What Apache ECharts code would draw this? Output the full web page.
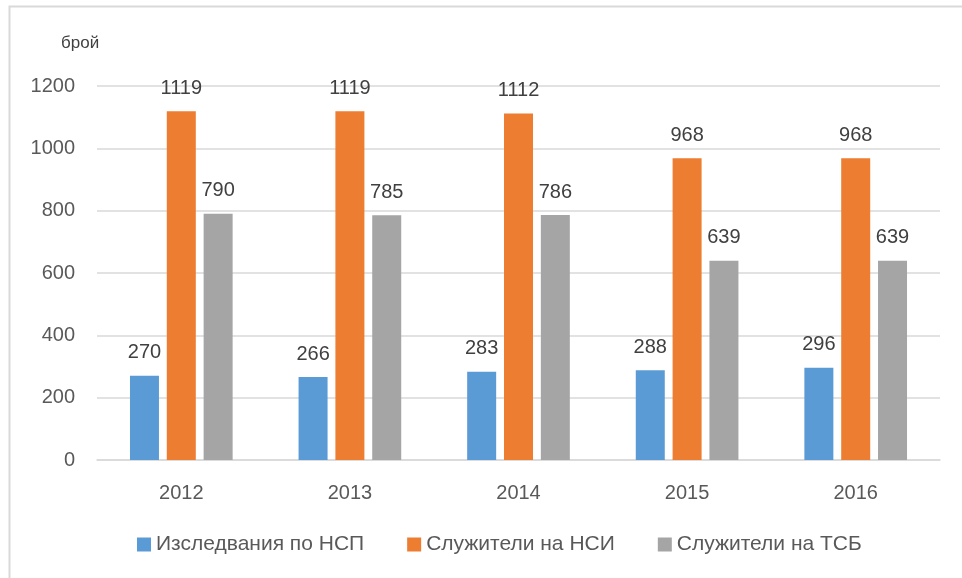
<!DOCTYPE html>
<html>
<head>
<meta charset="utf-8">
<script src="https://cdn.jsdelivr.net/npm/echarts@6/dist/echarts.min.js"></script>
<style>
  * { margin: 0; padding: 0; }
  body { background: #fff; }
  #container { width: 962px; height: 578px; }
</style>
</head>
<body>
<div id="container"></div>
<script>
var years = ['2012', '2013', '2014', '2015', '2016'];
var seriesNames = ['Изследвания по НСП', 'Служители на НСИ', 'Служители на ТСБ'];
var nsp = [270, 266, 283, 288, 296];
var nsi = [1119, 1119, 1112, 968, 968];
var tsb = [790, 785, 786, 639, 639];
var colors = ['#5b9bd5', '#ed7d31', '#a5a5a5'];

var font = 'Liberation Sans, Arial, sans-serif';
var chart = echarts.init(document.getElementById('container'));

function makeBar(name, data, color) {
    return {
        name: name,
        type: 'bar',
        data: data,
        barWidth: 29,
        barGap: '27%',
        itemStyle: { color: color },
        label: {
            show: true,
            position: 'top',
            distance: 13,
            color: '#404040',
            fontSize: 20,
            fontFamily: font
        }
    };
}

chart.setOption({
    animation: false,
    title: {
        text: 'брой',
        left: 56,
        top: 30,
        textStyle: { color: '#404040', fontSize: 17, fontWeight: 'normal', fontFamily: font }
    },
    // рамка около диаграмата
    graphic: [{
        type: 'rect',
        shape: { x: 9.5, y: 6.5, width: 1000, height: 700 },
        style: { fill: 'none', stroke: '#d9d9d9', lineWidth: 2 },
        silent: true
    }],
    grid: { left: 97, right: 22, top: 86, bottom: 118 },
    legend: {
        bottom: 18,
        left: 132,
        itemWidth: 14,
        itemHeight: 14,
        itemGap: 43,
        icon: 'rect',
        textStyle: { color: '#595959', fontSize: 21, fontFamily: font }
    },
    xAxis: {
        type: 'category',
        data: years,
        axisTick: { show: false },
        axisLine: { lineStyle: { color: '#d9d9d9', width: 1.5 } },
        axisLabel: { color: '#595959', fontSize: 20, margin: 23, fontFamily: font }
    },
    yAxis: {
        type: 'value',
        min: 0,
        max: 1200,
        interval: 200,
        axisLine: { show: false },
        axisTick: { show: false },
        splitLine: { lineStyle: { color: '#d9d9d9', width: 1.5 } },
        axisLabel: {
            color: '#595959', fontSize: 20, margin: 22, fontFamily: font,
            formatter: function (v) { return String(v); }
        }
    },
    series: [
        makeBar(seriesNames[0], nsp, colors[0]),
        makeBar(seriesNames[1], nsi, colors[1]),
        makeBar(seriesNames[2], tsb, colors[2])
    ]
});
</script>
</body>
</html>
